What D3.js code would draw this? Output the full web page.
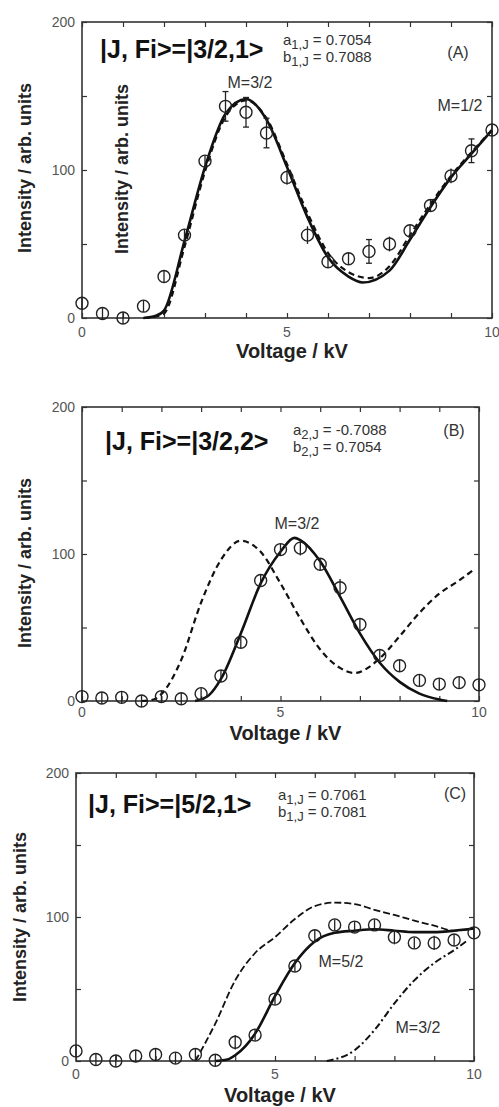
<!DOCTYPE html>
<html>
<head>
<meta charset="utf-8">
<script src="https://cdn.jsdelivr.net/npm/d3@7"></script>
<style>
  body { margin: 0; background: #fff; }
  svg { display: block; font-family: "Liberation Sans", Arial, sans-serif; }
</style>
</head>
<body>
<div id="chart"></div>
<script>
// measured voltages (kV)
const voltages = [0, 0.5, 1, 1.5, 2, 2.5, 3, 3.5, 4, 4.5, 5, 5.5, 6, 6.5, 7, 7.5, 8, 8.5, 9, 9.5, 10];

// panel A  |3/2,1>
const aIntensity = [10, 3, 0, 8, 28, 56, 106, 143, 139, 125, 95, 56, 38, 40, 45, 50, 59, 76, 96, 113, 127];
const aError = [4, 4, 4, 4, 4, 4, 4, 10, 10, 10, 5, 6, 4, 4, 8, 5, 4, 4, 5, 8, 4];
const aSolidX = [1.5, 1.8, 2, 2.5, 3, 3.5, 4, 4.5, 5, 5.5, 6, 6.5, 6.85, 7.5, 8, 8.5, 9, 9.5, 10];
const aSolidY = [0, 1.5, 5, 52, 102, 138, 148, 134, 102, 68, 41, 28, 24, 32, 53, 75, 95, 111, 127];
const aDashX = [1.5, 1.8, 2, 2.5, 3, 3.5, 4, 4.5, 5, 5.5, 6, 6.5, 7, 7.5, 8, 8.5, 9, 9.5, 10];
const aDashY = [0, 1, 3, 48, 99, 136, 147, 135, 104, 71, 44, 31, 27, 35, 56, 77, 96, 112, 127];

// panel B  |3/2,2>
const bIntensity = [3, 2, 2.5, 0, 3, 1.5, 5, 17, 40, 82, 103, 104, 93, 77, 52, 31, 24, 14, 11.5, 12.5, 11];
const bError = [4, 4, 4, 4, 4, 4, 4, 4, 4, 4, 4, 5, 4, 6, 4, 4, 4, 4, 4, 4, 4];
const bSolidX = [2.85, 3.2, 3.5, 4, 4.5, 5, 5.35, 5.5, 6, 6.5, 7, 7.5, 8, 8.5, 9, 9.2];
const bSolidY = [0, 4, 15, 46, 80, 101.5, 111, 109.5, 95, 71, 46, 26, 13, 5, 1, 0];
const bDashX = [1.5, 1.8, 2, 2.5, 3, 3.5, 4, 4.5, 5, 5.5, 6, 6.5, 6.85, 7.5, 8, 8.5, 9, 9.5, 9.85];
const bDashY = [0, 1, 4.7, 28, 67, 96, 109, 101.5, 80, 56, 35, 22.5, 19, 29, 44, 60, 73, 82, 89];

// panel C  |5/2,1>
const cIntensity = [7, 1, 0, 3.5, 4.5, 2, 4.5, 0.5, 13, 18, 43, 66, 87, 94.5, 93, 94.5, 86, 82, 82, 84, 89];
const cError = [4, 4, 4, 4, 4, 4, 4, 4, 5, 4, 4, 4, 4, 4, 4, 4, 5, 4, 5, 4, 4];
const cSolidX = [3.5, 3.8, 4, 4.5, 5, 5.5, 6, 6.5, 7, 7.5, 8, 8.5, 9, 9.5, 10];
const cSolidY = [0, 1, 4, 19, 45, 68, 83, 89, 90.5, 91.5, 90.5, 89.5, 89.5, 90.5, 92];
const cDashX = [3, 3.5, 4, 4.5, 5, 5.5, 6, 6.5, 7, 7.5, 8, 8.5, 9, 9.5, 10];
const cDashY = [0, 26, 56, 75, 86, 98.6, 107.6, 110, 109, 105, 101.4, 97.5, 94, 90.5, 92];
const cDotX = [6.3, 7, 7.5, 8, 8.5, 9, 9.5, 9.85];
const cDotY = [0, 7.5, 21.5, 40, 56, 68, 77, 84];

const xTickLabels = [0, 5, 10];
const yTickLabels = [0, 100, 200];

const width = 499;
const height = 1107;

const svg = d3.select("#chart")
    .append("svg")
    .attr("width", width)
    .attr("height", height);

const pts = (xs, ys) => xs.map((x, i) => ({ x: x, y: ys[i] }));

const panels = [
    {
        box: { left: 82, right: 492, top: 22, bottom: 318 },
        title: "|J, Fi>=|3/2,1>", titleX: 100, titleY: 58,
        coefA: ["a", "1,J", " = 0.7054"], coefB: ["b", "1,J", " = 0.7088"], coefX: 283, coefY: 45,
        tag: "(A)", tagX: 458, tagY: 58,
        yTitleX: 31, yTitleMid: 168, xTitleY: 358, xLabelDy: 19,
        points: voltages.map((v, i) => ({ x: v, y: aIntensity[i], e: aError[i] })),
        lines: [
            { d: pts(aDashX, aDashY), dash: "6,4", w: 2.2 },
            { d: pts(aSolidX, aSolidY), dash: null, w: 2.6 }
        ],
        labels: [
            { t: "M=3/2", x: 250, y: 88 },
            { t: "M=1/2", x: 460, y: 111 }
        ],
        extraYTitle: { x: 128, y: 169 }
    },
    {
        box: { left: 82, right: 479, top: 407, bottom: 701 },
        title: "|J, Fi>=|3/2,2>", titleX: 105, titleY: 450,
        coefA: ["a", "2,J", " = -0.7088"], coefB: ["b", "2,J", " = 0.7054"], coefX: 293, coefY: 435,
        tag: "(B)", tagX: 454, tagY: 436,
        yTitleX: 31, yTitleMid: 563, xTitleY: 740, xLabelDy: 16,
        points: voltages.map((v, i) => ({ x: v, y: bIntensity[i], e: bError[i] })),
        lines: [
            { d: pts(bDashX, bDashY), dash: "6,4", w: 2.2 },
            { d: pts(bSolidX, bSolidY), dash: null, w: 2.6 }
        ],
        labels: [
            { t: "M=3/2", x: 297, y: 529 }
        ]
    },
    {
        box: { left: 76, right: 474, top: 773, bottom: 1061 },
        title: "|J, Fi>=|5/2,1>", titleX: 88, titleY: 813,
        coefA: ["a", "1,J", " = 0.7061"], coefB: ["b", "1,J", " = 0.7081"], coefX: 278, coefY: 800,
        tag: "(C)", tagX: 455, tagY: 799,
        yTitleX: 26, yTitleMid: 917, xTitleY: 1102, xLabelDy: 18,
        points: voltages.map((v, i) => ({ x: v, y: cIntensity[i], e: cError[i] })),
        lines: [
            { d: pts(cDashX, cDashY), dash: "7,3", w: 1.8 },
            { d: pts(cDotX, cDotY), dash: "7,3,2,3", w: 2 },
            { d: pts(cSolidX, cSolidY), dash: null, w: 2.6 }
        ],
        labels: [
            { t: "M=5/2", x: 341, y: 967 },
            { t: "M=3/2", x: 418, y: 1033 }
        ]
    }
];

panels.forEach(p => {
    const b = p.box;
    const x = d3.scaleLinear().domain([0, 10]).range([b.left, b.right]);
    const y = d3.scaleLinear().domain([0, 200]).range([b.bottom, b.top]);
    const g = svg.append("g");

    // inward ticks on all four sides
    g.append("g").attr("transform", `translate(0,${b.bottom})`)
        .call(d3.axisTop(x).tickValues(d3.range(0, 11)).tickSize(5).tickFormat(""));
    g.append("g").attr("transform", `translate(0,${b.top})`)
        .call(d3.axisBottom(x).tickValues(d3.range(0, 11)).tickSize(5).tickFormat(""));
    g.append("g").attr("transform", `translate(${b.left},0)`)
        .call(d3.axisRight(y).tickValues([0, 50, 100, 150, 200]).tickSize(5).tickFormat(""));
    g.append("g").attr("transform", `translate(${b.right},0)`)
        .call(d3.axisLeft(y).tickValues([0, 50, 100, 150, 200]).tickSize(5).tickFormat(""));
    g.selectAll(".domain").remove();
    g.selectAll(".tick line").attr("stroke", "#333").attr("stroke-width", 1.2);

    // frame
    g.append("rect")
        .attr("x", b.left).attr("y", b.top)
        .attr("width", b.right - b.left).attr("height", b.bottom - b.top)
        .attr("fill", "none").attr("stroke", "#333").attr("stroke-width", 1.6);

    // tick labels
    g.selectAll(".yl").data(yTickLabels).enter().append("text")
        .attr("x", b.left - 7).attr("y", d => y(d) + 5)
        .attr("text-anchor", "end").attr("font-size", 14).attr("fill", "#555")
        .text(d => d);
    g.selectAll(".xl").data(xTickLabels).enter().append("text")
        .attr("x", d => x(d)).attr("y", b.bottom + p.xLabelDy)
        .attr("text-anchor", "middle").attr("font-size", 14).attr("fill", "#555")
        .text(d => d);

    // axis titles
    g.append("text")
        .attr("transform", `translate(${p.yTitleX},${p.yTitleMid}) rotate(-90)`)
        .attr("text-anchor", "middle").attr("font-size", 18).attr("font-weight", "bold").attr("fill", "#222")
        .text("Intensity / arb. units");
    if (p.extraYTitle) {
        g.append("text")
            .attr("transform", `translate(${p.extraYTitle.x},${p.extraYTitle.y}) rotate(-90)`)
            .attr("text-anchor", "middle").attr("font-size", 18).attr("font-weight", "bold").attr("fill", "#222")
            .text("Intensity / arb. units");
    }
    g.append("text")
        .attr("x", (b.left + b.right) / 2 + 5).attr("y", p.xTitleY)
        .attr("text-anchor", "middle").attr("font-size", 20).attr("font-weight", "bold").attr("fill", "#222")
        .text("Voltage / kV");

    // curves
    const line = d3.line().x(d => x(d.x)).y(d => y(d.y)).curve(d3.curveMonotoneX);
    p.lines.forEach(l => {
        g.append("path")
            .attr("d", line(l.d))
            .attr("fill", "none").attr("stroke", "#111")
            .attr("stroke-width", l.w)
            .attr("stroke-dasharray", l.dash);
    });

    // data points with error bars
    const pg = g.selectAll(".pt").data(p.points).enter().append("g");
    pg.append("line")
        .attr("x1", d => x(d.x)).attr("x2", d => x(d.x))
        .attr("y1", d => y(d.y - d.e)).attr("y2", d => y(d.y + d.e))
        .attr("stroke", "#222").attr("stroke-width", 1.3);
    pg.filter(d => d.e > 6).append("line")
        .attr("x1", d => x(d.x) - 3).attr("x2", d => x(d.x) + 3)
        .attr("y1", d => y(d.y + d.e)).attr("y2", d => y(d.y + d.e))
        .attr("stroke", "#222").attr("stroke-width", 1.3);
    pg.filter(d => d.e > 6).append("line")
        .attr("x1", d => x(d.x) - 3).attr("x2", d => x(d.x) + 3)
        .attr("y1", d => y(d.y - d.e)).attr("y2", d => y(d.y - d.e))
        .attr("stroke", "#222").attr("stroke-width", 1.3);
    pg.append("circle")
        .attr("cx", d => x(d.x)).attr("cy", d => y(d.y)).attr("r", 6)
        .attr("fill", "none").attr("stroke", "#222").attr("stroke-width", 1.4);

    // state label
    g.append("text")
        .attr("x", p.titleX).attr("y", p.titleY)
        .attr("font-size", 25).attr("font-weight", "bold").attr("fill", "#111")
        .text(p.title);

    // coefficients with subscripts
    [p.coefA, p.coefB].forEach((c, i) => {
        const t = g.append("text")
            .attr("x", p.coefX).attr("y", p.coefY + i * 17)
            .attr("font-size", 15).attr("fill", "#333");
        t.append("tspan").text(c[0]);
        t.append("tspan").attr("dy", 4).attr("font-size", 13).text(c[1]);
        t.append("tspan").attr("dy", -4).text(c[2]);
    });

    g.append("text")
        .attr("x", p.tagX).attr("y", p.tagY)
        .attr("text-anchor", "middle").attr("font-size", 16).attr("fill", "#333")
        .text(p.tag);

    p.labels.forEach(l => {
        g.append("text")
            .attr("x", l.x).attr("y", l.y)
            .attr("text-anchor", "middle").attr("font-size", 16).attr("fill", "#333")
            .text(l.t);
    });
});
</script>
</body>
</html>
